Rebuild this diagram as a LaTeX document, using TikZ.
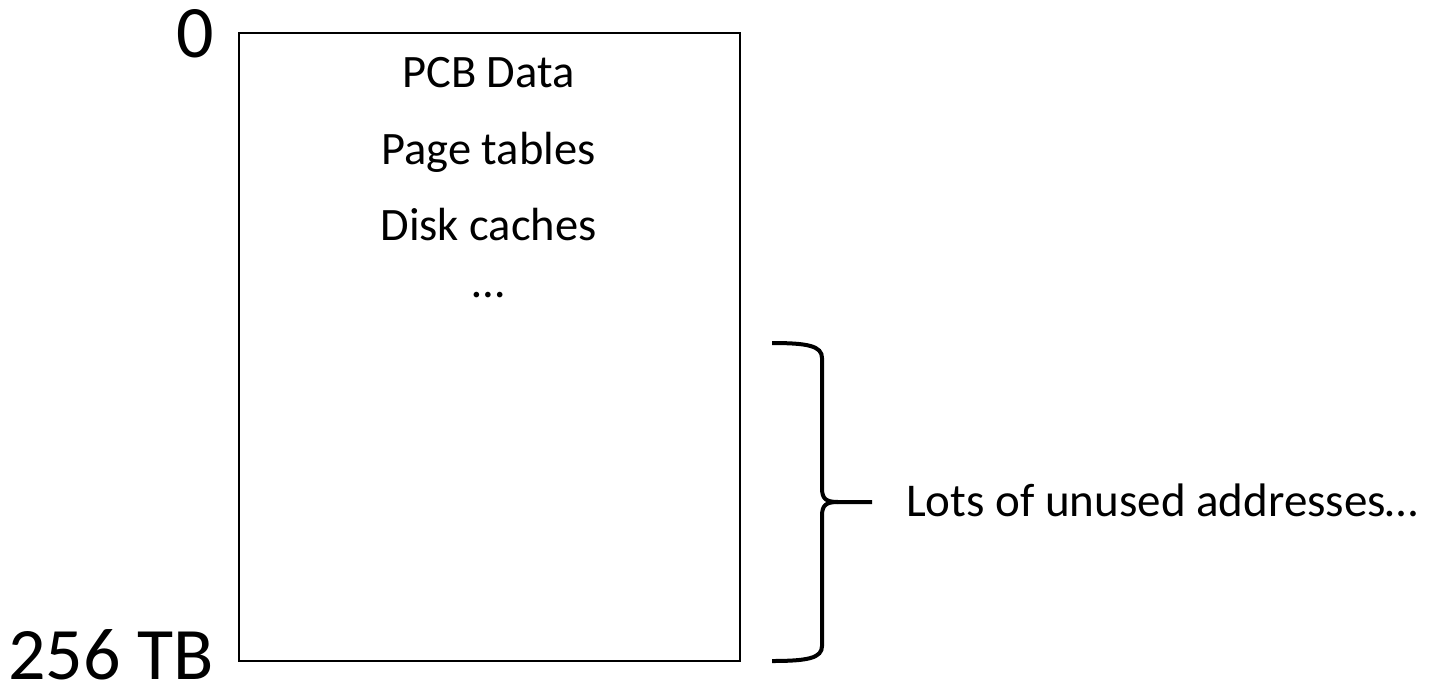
\documentclass[tikz,border=0pt]{standalone}
\usepackage{fontspec}
\setmainfont{Carlito}
\begin{document}
\begin{tikzpicture}[x=1pt,y=-1pt,
  lbl/.style={inner sep=0pt,anchor=base east,font=\fontsize{74}{80}\selectfont},
  itm/.style={inner sep=0pt,anchor=base,font=\fontsize{46.5}{50}\selectfont},
  brc/.style={line width=4pt,line cap=butt}]
\useasboundingbox (0,0) rectangle (1431,691);
\node[draw,line width=1.8pt,minimum width=501pt,minimum height=628pt,inner sep=0pt,anchor=north west] (mem) at (238,32) {};
\node[lbl] (zero) at (214,57) {0};
\node[lbl] (max) at (214,679) {\raisebox{0pt}[\height][0pt]{256 TB}};
\node[itm] (pcb) at (488.5,87) {PCB Data};
\node[itm] (pt) at (488.5,164) {Page tables};
\node[itm] (dc) at (488.5,240) {Disk caches};
\node[itm] (dots) at (488.5,297) {…};
\coordinate (btop) at (772,343);
\coordinate (bbot) at (772,661);
\coordinate (btip) at (872,502);
\draw[brc] (btop) .. controls (808,343) and (822,346) .. (822,358) -- (822,488)
  .. controls (822,499) and (826,502) .. (838,502) -- (btip);
\draw[brc] (bbot) .. controls (808,661) and (822,658) .. (822,646) -- (822,516)
  .. controls (822,505) and (826,502) .. (838,502);
\node[inner sep=0pt,anchor=base west,font=\fontsize{47}{50}\selectfont] (lots) at (906,516) {Lots of unused addresses…};
\end{tikzpicture}
\end{document}
